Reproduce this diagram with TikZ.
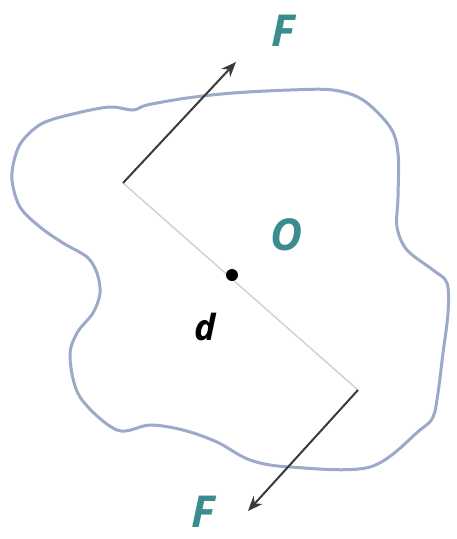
\documentclass[tikz,border=0pt]{standalone}
\usepackage{fontspec}
\newfontfamily\labelfont{Open Sans}
\usepackage{xcolor}
\usetikzlibrary{arrows.meta,calc,positioning}
\definecolor{outline}{HTML}{9CA9C9}
\definecolor{labelteal}{HTML}{3A8C8E}
\definecolor{forcegray}{HTML}{3A3A3A}
\tikzset{
  force/.style={-{Stealth[length=15pt,width=12pt]}, draw=forcegray, line width=2pt},
  lbl/.style={font=\labelfont\bfseries\itshape\fontsize{44}{44}\selectfont, text=labelteal, inner sep=0pt},
}
\begin{document}
\begin{tikzpicture}[x=1pt,y=-1pt]
        \useasboundingbox (0,0) rectangle (456,539);
        % Draw the body
        \draw[outline, line width=3pt, line join=round] plot[smooth cycle, tension=0.55] coordinates {
          (23,140) (43,123) (77,113) (110,107) (133,110) (147,105) (187,98) (233,93)
          (290,90) (333,90) (363,100) (390,127) (398,153) (398,197) (397,227) (407,250)
          (433,270) (447,283) (448,313) (443,353) (438,393) (433,417) (420,430) (370,467)
          (290,467) (250,460) (217,442) (183,430) (150,425) (117,430) (80,397) (70,357)
          (77,333) (93,313) (100,293) (97,273) (87,257) (63,243) (40,227) (20,207)
          (12,180) (15,157)};
        % points of application
        \coordinate (A) at (123,183);
        \coordinate (B) at (358,390);
        \coordinate (A1) at (236,62);
        \coordinate (B1) at (248,511);
        % lever arm
        \draw[gray!35, line width=1.5pt] (A) -- (B);
        % forces
        \draw[force] (A) -- (A1);
        \draw[force] (B) -- (B1);
        % centre
        \fill (232,275) circle (6pt) coordinate (O);
        \node[lbl] (Ftop) at (283,31) {F};
        \node[lbl] (Fbot) at (203,512) {F};
        \node[lbl] (Olbl) at (287,235) {O};
        \node[lbl, text=black, font=\labelfont\bfseries\itshape\fontsize{36}{36}\selectfont] (dlbl) at (205,327) {d};
\end{tikzpicture}
\end{document}
